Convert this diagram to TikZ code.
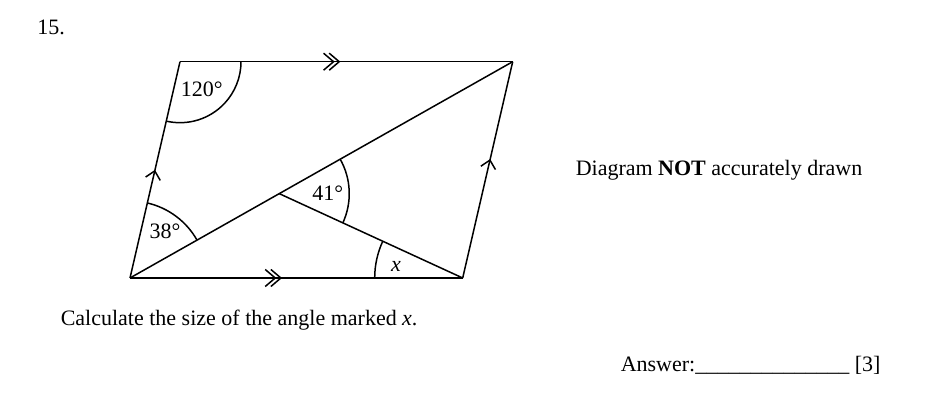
\documentclass[tikz,border=0pt]{standalone}
\usepackage{fontspec}
\setmainfont{Liberation Serif}
\usetikzlibrary{angles,calc,decorations.markings,arrows.meta}

\begin{document}
\begin{tikzpicture}[x=1pt, y=1pt, line width=1.5pt,
  txt/.style={anchor=base west, inner sep=0pt, font=\fontsize{22}{26}\selectfont},
  lbl/.style={inner sep=0pt, font=\fontsize{22}{26}\selectfont},
  angmark/.style={draw, line width=1.5pt, angle radius=#1},
  one/.style={postaction={decorate, decoration={markings,
    mark=at position #1 with {\arrow{Straight Barb[length=8pt,width=15pt]}}}}},
  two/.style={postaction={decorate, decoration={markings,
    mark=at position #1 with {\arrow{Straight Barb[length=10pt,width=17pt]}},
    mark=at position #1+0.017 with {\arrow{Straight Barb[length=10pt,width=17pt]}}}}}]
			\useasboundingbox (0, 0) rectangle (950, 406);

			\coordinate (A) at (130, 128);
			\coordinate (B) at (462.7, 128);
			\coordinate (C) at (512.7, 344.3);
			\coordinate (D) at (180, 344.3);
			\coordinate (P) at ($(A)!0.39!(C)$);

			\draw[two=0.44] (A) -- (B);
			\draw[one=0.55] (B) -- (C);
			\draw[two=0.465] (D) -- (C);
			\draw[one=0.50] (A) -- (D);
			\draw (A) -- (C);
			\draw (P) -- (B);

			\pic[angmark=61pt] {angle = A--D--C};
			\pic[angmark=77pt] {angle = C--A--D};
			\pic[angmark=70pt] {angle = B--P--C};
			\pic[angmark=88pt] {angle = P--B--A};

			\node[lbl] at (201.7, 316.7) (d-lbl) {120°};
			\node[lbl] at (165, 174.3) (a-lbl) {38°};
			\node[lbl] at (327.7, 212.7) (p-lbl) {41°};
			\node[lbl] at (396, 140) (b-lbl) {\textit{x}};

			\node[txt] at (36.7, 371) (num) {15.};
			\node[txt] at (575, 230) (note) {Diagram \textbf{NOT} accurately drawn};
			\node[txt] at (60, 80) (task) {Calculate the size of the angle marked \textit{x}.};
			\node[txt] at (620, 34.3) (answer) {Answer:\_\_\_\_\_\_\_\_\_\_\_\_\_\_ [3]};
		\end{tikzpicture}
\end{document}
